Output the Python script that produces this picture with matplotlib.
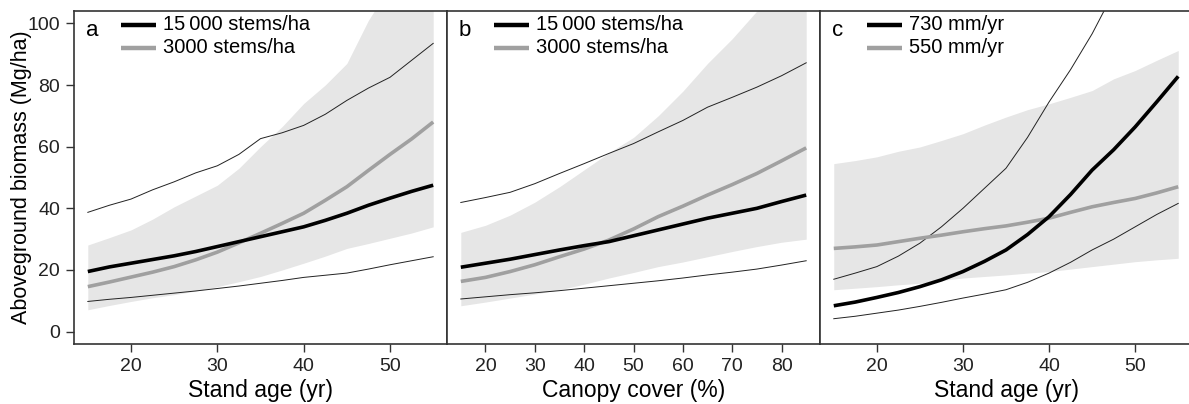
import numpy as np
import matplotlib
matplotlib.use("Agg")
import matplotlib.pyplot as plt

plt.rcParams['font.family'] = ['Liberation Sans', 'DejaVu Sans']

# panel a : stand age
age = [15, 17.5, 20, 22.5, 25, 27.5, 30, 32.5, 35, 37.5, 40, 42.5, 45, 47.5, 50, 52.5, 55]
a_black = [19.5, 21, 22.2, 23.4, 24.6, 26, 27.6, 29.2, 30.8, 32.4, 34.0, 36.1, 38.4, 41, 43.3, 45.5, 47.5]
a_gray = [14.6, 16.1, 17.7, 19.3, 21.1, 23.3, 25.8, 28.8, 31.9, 35.1, 38.4, 42.6, 47, 52.3, 57.5, 62.5, 68]
a_hi = [38.7, 41, 43, 46, 48.6, 51.5, 53.8, 57.5, 62.6, 64.5, 66.9, 70.5, 75, 79, 82.5, 88, 93.5]
a_lo = [9.8, 10.5, 11.1, 11.8, 12.5, 13.2, 14, 14.8, 15.7, 16.6, 17.6, 18.3, 19, 20.3, 21.7, 23, 24.3]
a_band_hi = [28.1, 30.5, 33, 36.5, 40.5, 44, 47.5, 53, 60, 66.5, 74, 80, 87, 101, 112, 122, 132]
a_band_lo = [7.1, 8.5, 9.8, 11, 12, 13.2, 14.6, 16.2, 17.9, 20, 22.2, 24.5, 27, 28.6, 30.3, 32, 34]

# panel b : canopy cover
cover = [15, 20, 25, 30, 35, 40, 45, 50, 55, 60, 65, 70, 75, 80, 85]
b_black = [20.9, 22.2, 23.5, 25, 26.5, 27.9, 29.2, 31.1, 33, 34.9, 36.8, 38.4, 40, 42.2, 44.3]
b_gray = [16.3, 17.6, 19.5, 21.7, 24.3, 26.8, 29.7, 33.3, 37.3, 40.7, 44.3, 47.7, 51.3, 55.4, 59.6]
b_hi = [41.9, 43.5, 45.2, 48, 51.3, 54.5, 57.8, 61, 64.8, 68.5, 72.8, 76, 79.3, 83, 87.2]
b_lo = [10.6, 11.3, 12, 12.6, 13.3, 14.1, 14.9, 15.7, 16.5, 17.4, 18.4, 19.3, 20.3, 21.6, 23]
b_band_hi = [32.2, 34.5, 37.8, 42, 47, 52.5, 58, 63, 70, 78, 87, 95, 104, 112, 120]
b_band_lo = [8.4, 9.6, 10.9, 12.2, 13.6, 15.4, 17.4, 19.2, 21.1, 22.6, 24.3, 26, 27.6, 29, 30]

# panel c : stand age, rainfall
c_black = [8.4, 9.6, 11.1, 12.7, 14.6, 16.8, 19.5, 22.8, 26.5, 31.5, 37.3, 44.5, 52.4, 59, 66.4, 74.5, 82.8]
c_gray = [27, 27.5, 28.1, 29.2, 30.3, 31.3, 32.4, 33.4, 34.3, 35.5, 36.8, 38.7, 40.5, 41.9, 43.2, 45, 47]
c_hi = [17, 19, 21.1, 24.5, 28.7, 34, 40, 46.5, 53, 63, 74.5, 85, 96.6, 110, 125, 145, 170]
c_lo = [4.2, 5, 6, 7, 8.2, 9.5, 10.9, 12.2, 13.6, 16, 19, 22.5, 26.5, 30, 34, 38, 41.6]
c_band_hi = [54.5, 55.5, 56.7, 58.5, 59.9, 62, 64.2, 67, 69.6, 72, 73.9, 76, 78.2, 82, 84.7, 88, 91.2]
c_band_lo = [13.6, 14.1, 14.6, 15.2, 15.7, 16.6, 17.4, 17.9, 18.4, 19, 19.5, 20.3, 21.1, 21.9, 22.7, 23.3, 23.8]

panels = [
    ('a', age, a_black, a_gray, a_hi, a_lo, a_band_hi, a_band_lo,
     ['15\u2009000 stems/ha', '3000 stems/ha'], 'Stand age (yr)', [20, 30, 40, 50]),
    ('b', cover, b_black, b_gray, b_hi, b_lo, b_band_hi, b_band_lo,
     ['15\u2009000 stems/ha', '3000 stems/ha'], 'Canopy cover (%)', [20, 30, 40, 50, 60, 70, 80]),
    ('c', age, c_black, c_gray, c_hi, c_lo, c_band_hi, c_band_lo,
     ['730 mm/yr', '550 mm/yr'], 'Stand age (yr)', [20, 30, 40, 50]),
]

fig = plt.figure(figsize=(11.89, 4.04), dpi=100)
W, H = 1189.0, 404.0
lefts = [74, 447, 820]
rights = [447, 820, 1192]
spine_col = '#333333'
blk_col, gry_col = 'black', '#a0a0a0'

for i, (tag, x, blk, gry, hi, lo, bhi, blo, labs, xlab, xt) in enumerate(panels):
    ax = fig.add_axes([lefts[i]/W, 1 - 344/H, (rights[i]-lefts[i])/W, (344-11)/H])
    ax.fill_between(x, blo, bhi, color='#e6e6e6', lw=0, zorder=1)
    ax.plot(x, hi, color='#222222', lw=0.7, zorder=2)
    ax.plot(x, lo, color='#222222', lw=0.7, zorder=2)
    ax.plot(x, blk, color=blk_col, lw=2.6, zorder=4, solid_capstyle='butt')
    ax.plot(x, gry, color=gry_col, lw=2.6, zorder=3, solid_capstyle='butt')
    span = x[-1] - x[0]
    ax.set_xlim(x[0] - 0.04*span, x[-1] + 0.04*span)
    ax.set_ylim(-4, 104)
    ax.set_xticks(xt)
    ax.tick_params(direction='out', length=6, width=1, color=spine_col,
                   labelsize=14, pad=4, labelcolor='#222222')
    if i == 0:
        ax.set_yticks([0, 20, 40, 60, 80, 100])
        ax.set_ylabel('Aboveground biomass (Mg/ha)', fontsize=15.5, labelpad=-3)
    else:
        ax.set_yticks([])
    ax.set_xlabel(xlab, fontsize=16.5, labelpad=3)
    for s in ax.spines.values():
        s.set_color(spine_col)
        s.set_linewidth(1.2)
    ax.text(0.032, 0.94, tag, transform=ax.transAxes, fontsize=16, va='center', ha='left')
    # key
    for yk, col, lab in [(0.958, blk_col, labs[0]), (0.890, gry_col, labs[1])]:
        ax.plot([0.125, 0.22], [yk, yk], color=col, lw=3.2, transform=ax.transAxes,
                solid_capstyle='butt', zorder=5)
        ax.text(0.238, yk, lab, transform=ax.transAxes, fontsize=14.5, va='center', ha='left')

fig.savefig('out.png', dpi=100)
